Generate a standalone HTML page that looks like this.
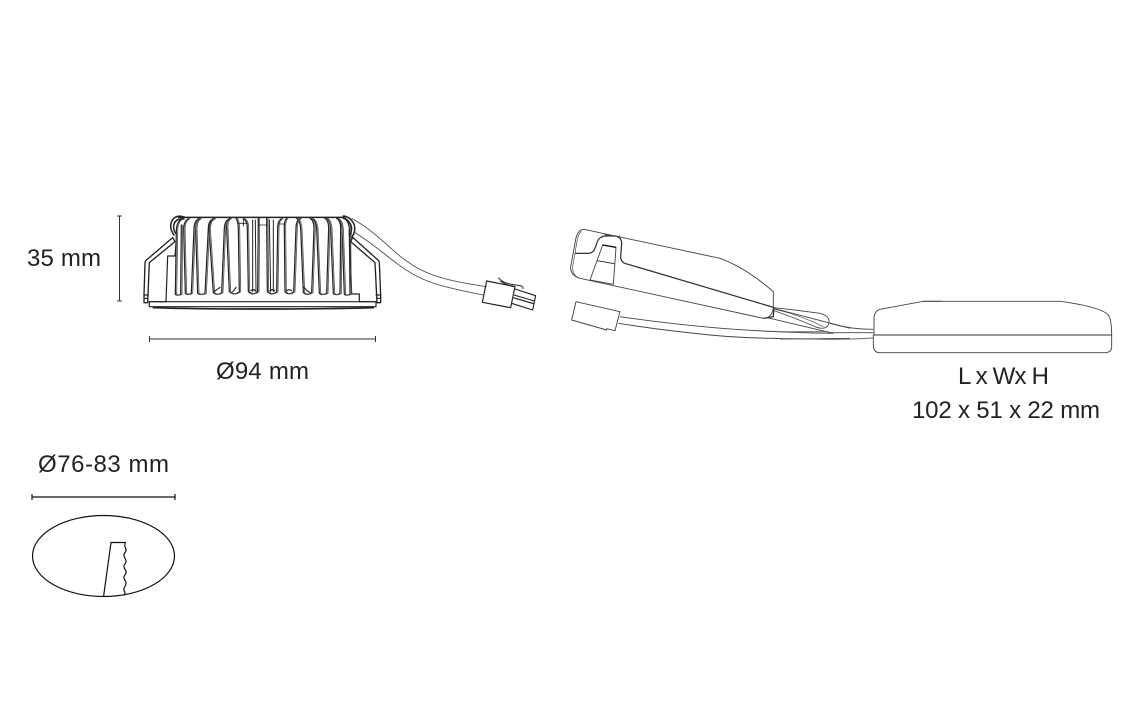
<!DOCTYPE html>
<html><head><meta charset="utf-8"><style>
html,body{margin:0;padding:0;background:#fff;width:1141px;height:720px;overflow:hidden}
svg{display:block}
text{font-family:"Liberation Sans",sans-serif;font-size:24px;fill:#222}
</style></head><body>
<svg width="1141" height="720" viewBox="0 0 1141 720" xmlns="http://www.w3.org/2000/svg">
<rect width="1141" height="720" fill="#fff"/>
<text x="27" y="266" textLength="74">35 mm</text>
<text x="216" y="379" textLength="93">Ø94 mm</text>
<text x="958" y="384" textLength="91">L x Wx H</text>
<text x="912" y="418" textLength="188">102 x 51 x 22 mm</text>
<text x="38" y="472" textLength="131">Ø76-83 mm</text>

<g fill="none" stroke="#333" stroke-width="1">
<path d="M119.5 216V301M117 216H122M117 301H122"/>
<path d="M149.5 339H375.5M149.5 336V342M375.5 336V342"/>
</g>
<g fill="none" stroke="#111" stroke-width="1.2">
<path d="M32 497H175M32 494V500M175 494V500"/>
<ellipse cx="103.5" cy="556" rx="71" ry="40.5"/>
<path d="M103.5 597L111 542.5H125.5Q124 545 125.5 548Q127 551 124.5 553Q123 556 125.5 559Q127 562 124.5 564.500Q123 567 125.500 570Q127 573 124.5 575.500Q123 578 125.500 581Q127 584 124.500 587Q123 590 125 592L124.500 595.500"/>
</g>

<!-- luminaire -->
<g transform="translate(110 200) scale(.33333)" fill="none" stroke="#222" stroke-width="3.600" stroke-linejoin="round" stroke-linecap="round">
<path d="M205 52H705" stroke-width="4.500"/>
<path d="M118 305V320H798V305H748V282H725L718 90"/>
<path d="M118 305H168L173 168H195L198 130"/>
<path d="M130 323Q250 327 450 327T790 323" stroke-width="5"/>
<path d="M118 305H798"/>
<g id="fins">
<path d="M214 75L212 283Q204 288 196 283L199 95Q199 62 218 56"/>
<path d="M236 56Q222 62 221 85L226 280Q235 287 244 280L252 85Q253 62 268 55"/>
<path d="M270 56Q258 62 257 85L263 280Q274 287 285 280L295 85Q295 62 312 55"/>
<path d="M312 56Q298 62 297 85L310 278Q322 288 335 278L343 85Q344 62 360 55"/>
<path d="M360 56Q348 62 350 85L358 275Q373 288 388 275L385 85Q384 62 378 55"/>
<path d="M400 56Q412 62 412 85L415 275Q428 288 443 275L445 55"/>
<path d="M470 55L472 275Q485 288 500 275L503 85Q503 62 515 56"/>
<path d="M530 55Q522 62 523 85L525 275Q537 288 551 275L558 85Q558 62 570 56"/>
<path d="M560 55Q570 62 572 85L580 278Q592 288 605 278L612 85Q612 62 600 55"/>
<path d="M605 55Q618 62 620 85L628 280Q638 287 650 280L656 85Q656 62 645 55"/>
<path d="M650 55Q660 62 662 85L670 281Q680 287 690 281L692 85Q692 62 680 55"/>
<path d="M682 55Q694 62 696 85L703 283Q711 288 720 283L718 85Q716 62 700 52"/>
</g>
<use href="#fins" x="4" stroke="#555" stroke-width="2.600"/>
<path d="M385 70H412M445 75H470M505 72H525M400 56V78M445 55V80M470 55V80" stroke-width="2.500"/>
<path d="M428 60L428 275M436 60L438 275M478 60L482 275M490 60L490 275" stroke-width="3"/>
<path d="M312 275Q322 268 330 262M368 275Q374 270 378 262M582 262Q590 272 600 278M423 272Q430 266 436 272M480 272Q487 266 494 272M530 272Q537 266 545 272" stroke-width="3.500"/>
<path d="M225 52Q200 42 187 60Q175 82 192 105M222 57Q198 55 192 72Q188 88 197 100" stroke-width="4.500"/>
<path d="M188 113L107 182L105 188L102 285V308H113L118 188L195 125L188 113Z" stroke-width="4"/>
<path d="M102 285H115M103 295H113"/>
<path d="M700 48Q722 50 733 75Q738 95 725 112M700 55Q722 62 725 85L722 105" stroke-width="4.500"/>
<path d="M728 112L806 182L808 188L812 285V308H801L795 188L722 125L728 112Z" stroke-width="4"/>
<path d="M798 285H812M801 295H812"/>
</g>

<!-- wires and connector -->
<g transform="translate(340 215) scale(.33333)" fill="none" stroke="#444" stroke-width="3" stroke-linejoin="round">
<path d="M35 10C90 40 130 80 170 115C240 175 300 195 440 215" stroke-width="2.500"/>
<path d="M40 50C90 80 130 115 170 145C240 200 300 215 430 240" stroke-width="2.500"/>
<path d="M440 198L427 262L512 278L525 215Z" stroke="#222" stroke-width="3.500"/>
<path d="M525 222L587 242L578 285L515 265M522 240L583 258M520 248L581 266" stroke="#222" stroke-width="3.400"/>
<path d="M475 188Q490 205 515 208L540 212Q552 215 548 222M480 198Q500 212 525 215" stroke="#222"/>
</g>

<!-- driver -->
<g transform="translate(560 220) scale(.33333)" fill="none" stroke="#444" stroke-width="2.800" stroke-linejoin="round">
<path d="M72 28L480 115Q560 145 640 215V265Q635 295 610 295L60 175Q30 165 32 140L45 70Q50 28 72 28Z"/>
<path d="M65 34Q55 38 50 70L38 140Q36 160 50 170" stroke-width="2"/>
<path d="M45 100H85Q100 100 105 85L112 65Q118 50 135 48H165Q185 50 185 72L182 110Q182 130 205 133L640 262" stroke="#333" stroke-width="3.800"/>
<path d="M135 42V50M178 46V55M135 44L178 50" stroke-width="2.500"/>
<path d="M128 75L90 180L160 193L168 82L128 75Z"/>
<path d="M128 75L168 82" stroke="#111" stroke-width="4"/>
<path d="M112 122L163 131" stroke="#222"/>
<path d="M610 295L640 290L642 262" stroke="#222" stroke-width="3.500"/>
<path d="M48 245L180 275L165 332L140 326V330L35 300Z"/>
<path d="M180 290Q300 308 450 322T820 340"/>
<path d="M175 310Q300 330 450 345T870 355"/>
<path d="M640 265L870 325" stroke-width="2.500"/>
<path d="M622 293L820 340" stroke-width="2.500"/>
<path d="M642 263Q710 270 780 280Q815 290 805 315Q795 330 770 322Q720 300 642 272" stroke-width="2.500"/>
<path d="M645 268Q720 285 790 320" stroke-width="2"/>
</g>

<!-- box -->
<g transform="translate(780 290) scale(.33333)" fill="none" stroke="#444" stroke-width="2.800" stroke-linejoin="round">
<path d="M282 135V80Q285 62 300 58L430 34H840Q960 50 985 75Q995 90 995 135V170Q995 188 975 188H300Q282 188 280 170V135Z"/>
<path d="M282 135H995" stroke="#333"/>
<path d="M430 34H485" stroke="#555" stroke-width="3.500"/>
<path d="M150 100Q210 118 280 118"/>
<path d="M145 128L280 128"/>
<path d="M0 125H145M0 147H100Q190 150 280 144" stroke="#666"/>
</g>
</svg>
</body></html>
